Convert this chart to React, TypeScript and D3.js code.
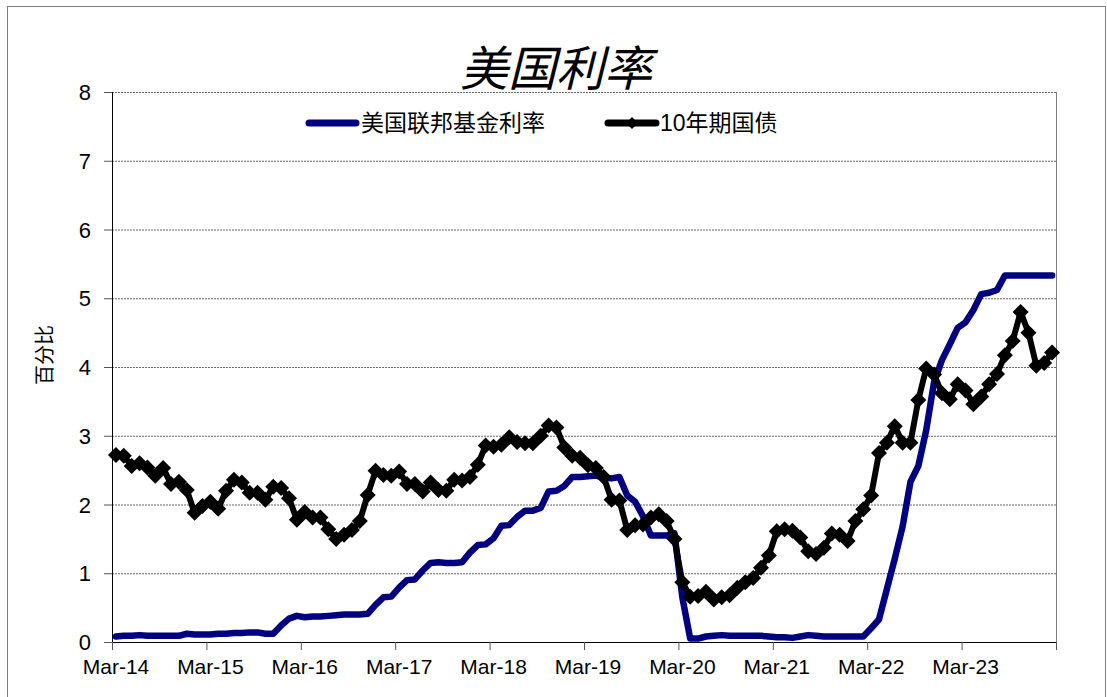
import React from "react";
import { scaleLinear, line, curveLinear } from "d3";

// monthly, Mar-14 .. Feb-24
const fedFunds = [
  0.08, 0.09, 0.09, 0.1, 0.09, 0.09, 0.09, 0.09, 0.09, 0.12,
  0.11, 0.11, 0.11, 0.12, 0.12, 0.13, 0.13, 0.14, 0.14, 0.12, 0.12, 0.24,
  0.34, 0.38, 0.36, 0.37, 0.37, 0.38, 0.39, 0.4, 0.4, 0.4, 0.41, 0.54,
  0.65, 0.66, 0.79, 0.9, 0.91, 1.04, 1.15, 1.16, 1.15, 1.15, 1.16, 1.3,
  1.41, 1.42, 1.51, 1.69, 1.7, 1.82, 1.91, 1.91, 1.95, 2.19, 2.2, 2.27,
  2.4, 2.4, 2.41, 2.42, 2.39, 2.38, 2.4, 2.13, 2.04, 1.83, 1.55, 1.55,
  1.55, 1.58, 0.65, 0.05, 0.05, 0.08, 0.09, 0.1, 0.09, 0.09, 0.09, 0.09,
  0.09, 0.08, 0.07, 0.07, 0.06, 0.08, 0.1, 0.09, 0.08, 0.08, 0.08, 0.08,
  0.08, 0.08, 0.2, 0.33, 0.77, 1.21, 1.68, 2.33, 2.56, 3.08, 3.78, 4.1,
  4.33, 4.57, 4.65, 4.83, 5.06, 5.08, 5.12, 5.33, 5.33, 5.33, 5.33, 5.33,
  5.33, 5.33,
];

const treasury10y = [
  2.72, 2.71, 2.56, 2.6, 2.54, 2.42, 2.53, 2.3, 2.33, 2.21,
  1.88, 1.98, 2.04, 1.94, 2.2, 2.36, 2.32, 2.17, 2.17, 2.07, 2.26, 2.24,
  2.09, 1.78, 1.89, 1.81, 1.81, 1.64, 1.5, 1.56, 1.63, 1.76, 2.14, 2.49,
  2.43, 2.42, 2.48, 2.3, 2.3, 2.19, 2.32, 2.21, 2.2, 2.36, 2.35, 2.4,
  2.58, 2.86, 2.84, 2.87, 2.98, 2.91, 2.89, 2.89, 3.0, 3.15, 3.12, 2.83,
  2.71, 2.68, 2.57, 2.53, 2.4, 2.07, 2.06, 1.63, 1.7, 1.71, 1.81, 1.86,
  1.76, 1.5, 0.87, 0.66, 0.67, 0.73, 0.62, 0.65, 0.68, 0.79, 0.87, 0.93,
  1.08, 1.26, 1.61, 1.64, 1.62, 1.52, 1.32, 1.28, 1.37, 1.58, 1.56, 1.47,
  1.76, 1.93, 2.13, 2.75, 2.9, 3.14, 2.9, 2.9, 3.52, 3.98, 3.89, 3.62,
  3.53, 3.75, 3.66, 3.46, 3.57, 3.75, 3.9, 4.17, 4.38, 4.8, 4.5, 4.02,
  4.06, 4.21,
];

const tickLabels = [
  "Mar-14", "Mar-15", "Mar-16", "Mar-17", "Mar-18",
  "Mar-19", "Mar-20", "Mar-21", "Mar-22", "Mar-23",
];
const yTicks = [0, 1, 2, 3, 4, 5, 6, 7, 8];

const W = 1107;
const H = 697;
const plot = { left: 112, right: 1056, top: 92, bottom: 642 };
const font = "'Liberation Sans', Arial, 'Noto Sans CJK SC', sans-serif";

const diamond = "M0,-8L8,0L0,8L-8,0Z";

export default function App() {
  const n = fedFunds.length;
  const x = scaleLinear().domain([0, n]).range([plot.left, plot.right]);
  const y = scaleLinear().domain([0, 8]).range([plot.bottom, plot.top]);

  const path = line<number>()
    .x((_, i) => x(i + 0.5))
    .y((d) => y(d))
    .curve(curveLinear);

  const tickIdx = Array.from({ length: tickLabels.length + 1 }, (_, i) => i * 12);

  return (
    <svg
      width={W}
      height={H}
      style={{ position: "absolute", left: 0, top: 0, background: "#fff" }}
      fontFamily={font}
    >
      <rect x={7.5} y={6.5} width={1098} height={710} fill="#fff" stroke="#808080" />

      <text
        x={556}
        y={86}
        textAnchor="middle"
        fontSize={48}
        fontStyle="italic"
        fill="#000"
      >
        美国利率
      </text>

      {/* grid */}
      {yTicks.slice(1).map((t) => (
        <line
          key={t}
          x1={plot.left}
          x2={plot.right}
          y1={y(t) + 0.5}
          y2={y(t) + 0.5}
          stroke="#666"
          strokeDasharray="2,1"
        />
      ))}
      <line x1={plot.right + 0.5} x2={plot.right + 0.5} y1={plot.top} y2={plot.bottom} stroke="#808080" />

      {/* y axis */}
      <line x1={plot.left + 0.5} x2={plot.left + 0.5} y1={plot.top} y2={plot.bottom} stroke="#000" />
      {yTicks.map((t) => (
        <g key={t}>
          <line x1={plot.left - 8} x2={plot.left} y1={y(t) + 0.5} y2={y(t) + 0.5} stroke="#555" />
          <text x={plot.left - 21} y={y(t) + 8} textAnchor="end" fontSize={22}>
            {t}
          </text>
        </g>
      ))}
      <text
        transform={`translate(52,355) rotate(-90)`}
        textAnchor="middle"
        fontSize={20}
        fontFamily="'Noto Sans CJK SC', sans-serif"
      >
        百分比
      </text>

      {/* x axis */}
      <line x1={plot.left} x2={plot.right} y1={plot.bottom + 0.5} y2={plot.bottom + 0.5} stroke="#000" />
      {tickIdx.map((i) => (
        <line
          key={i}
          x1={x(i) + 0.5}
          x2={x(i) + 0.5}
          y1={plot.bottom}
          y2={plot.bottom + 8}
          stroke="#555"
        />
      ))}
      {tickLabels.map((lab, k) => (
        <text key={lab} x={x(k * 12) + 4} y={674} textAnchor="middle" fontSize={21}>
          {lab}
        </text>
      ))}

      {/* series */}
      <path
        d={path(fedFunds) ?? ""}
        fill="none"
        stroke="#000080"
        strokeWidth={6.5}
        strokeLinejoin="round"
        strokeLinecap="round"
      />
      <path
        d={path(treasury10y) ?? ""}
        fill="none"
        stroke="#000"
        strokeWidth={6}
        strokeLinejoin="round"
      />
      {treasury10y.map((d, i) => (
        <path key={i} d={diamond} transform={`translate(${x(i + 0.5)},${y(d)})`} fill="#000" />
      ))}

      {/* legend */}
      <line x1={309} x2={356} y1={123} y2={123} stroke="#000080" strokeWidth={7} strokeLinecap="round" />
      <text x={361} y={131} fontSize={23}>
        美国联邦基金利率
      </text>
      <line x1={608} x2={656} y1={123} y2={123} stroke="#000" strokeWidth={7} strokeLinecap="round" />
      <path d={diamond} transform="translate(632,123) scale(0.75)" fill="#000" />
      <text x={660} y={131} fontSize={23}>
        10年期国债
      </text>
    </svg>
  );
}
